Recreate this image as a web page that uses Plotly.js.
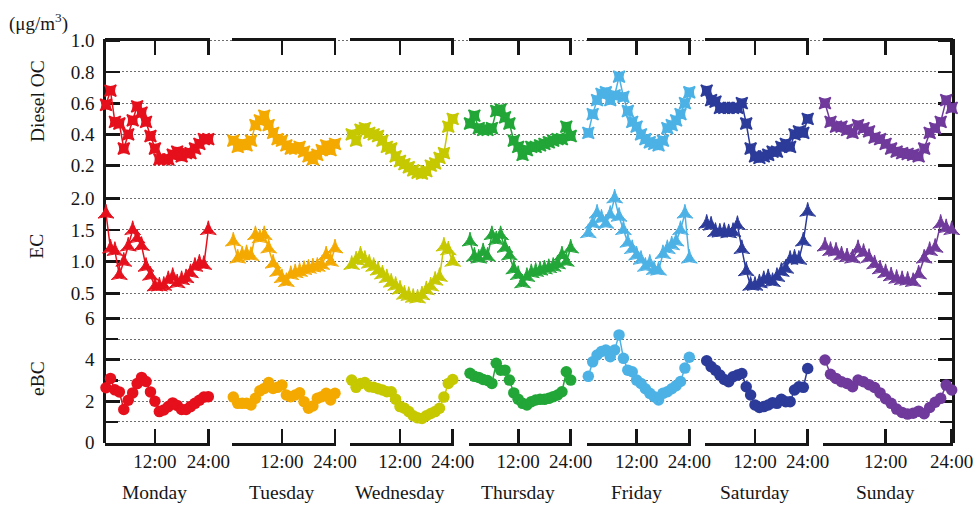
<!DOCTYPE html>
<html><head><meta charset="utf-8">
<script src="https://cdn.plot.ly/plotly-3.0.1.min.js"></script>
<style>html,body{margin:0;padding:0;background:#fff}</style>
</head><body><div id="chart" style="width:978px;height:507px"></div>
<script>
// ---------------- data ----------------
const days = ['Monday','Tuesday','Wednesday','Thursday','Friday','Saturday','Sunday'];
const hours = [1,2,3,4,5,6,7,8,9,10,11,12,13,14,15,16,17,18,19,20,21,22,23,24];
const hourTickVals = [12, 24];
const hourTickText = ['12:00', '24:00'];
const rowTitles = ['Diesel OC', 'EC', 'eBC'];
const unitLabel = '(μg/m<sup>3</sup>)';

const ocMon = [0.59,0.68,0.48,0.47,0.31,0.40,0.49,0.58,0.54,0.48,0.39,0.31,0.24,0.24,0.24,0.27,0.29,0.26,0.28,0.28,0.31,0.34,0.37,0.37];
const ocTue = [0.36,0.32,0.34,0.33,0.36,0.46,0.49,0.52,0.46,0.41,0.37,0.36,0.33,0.31,0.31,0.32,0.29,0.26,0.24,0.27,0.30,0.33,0.30,0.34];
const ocWed = [0.40,0.36,0.43,0.44,0.41,0.40,0.39,0.36,0.32,0.31,0.26,0.23,0.21,0.19,0.17,0.155,0.15,0.165,0.20,0.215,0.25,0.28,0.45,0.50];
const ocThu = [0.47,0.52,0.44,0.43,0.43,0.44,0.55,0.56,0.51,0.47,0.36,0.32,0.27,0.30,0.32,0.32,0.33,0.34,0.35,0.36,0.37,0.37,0.45,0.39];
const ocFri = [0.41,0.53,0.62,0.66,0.67,0.62,0.65,0.77,0.64,0.55,0.48,0.45,0.40,0.37,0.35,0.34,0.33,0.36,0.44,0.46,0.49,0.53,0.60,0.67];
const ocSat = [0.68,0.62,0.61,0.57,0.57,0.57,0.57,0.57,0.60,0.47,0.31,0.26,0.25,0.26,0.27,0.29,0.29,0.32,0.34,0.32,0.40,0.42,0.41,0.50];
const ocSun = [0.60,0.48,0.45,0.45,0.43,0.41,0.46,0.44,0.42,0.38,0.37,0.34,0.31,0.29,0.28,0.275,0.27,0.26,0.31,0.41,0.44,0.48,0.62,0.57];

const ecMon = [1.76,1.21,1.17,0.79,1.00,1.24,1.50,1.37,1.25,0.92,0.78,0.61,0.61,0.62,0.71,0.76,0.66,0.71,0.74,0.82,0.92,0.97,0.95,1.50];
const ecTue = [1.32,1.05,1.10,1.12,1.09,1.42,1.37,1.42,1.21,0.97,0.84,0.74,0.68,0.79,0.82,0.84,0.87,0.89,0.91,0.92,0.95,1.10,1.00,1.21];
const ecWed = [0.95,1.02,1.10,1.03,0.97,0.92,0.86,0.80,0.74,0.67,0.62,0.56,0.48,0.46,0.43,0.42,0.47,0.55,0.61,0.70,0.76,1.24,1.18,1.00];
const ecThu = [1.32,1.08,1.05,1.15,1.08,1.42,1.34,1.42,1.22,1.10,0.88,0.79,0.66,0.76,0.82,0.84,0.86,0.88,0.90,0.92,0.96,1.10,1.00,1.21];
const ecFri = [1.45,1.60,1.76,1.68,1.60,1.74,2.00,1.71,1.50,1.30,1.20,1.10,1.03,0.92,0.97,0.87,0.86,1.12,1.20,1.26,1.32,1.50,1.76,1.05];
const ecSat = [1.60,1.57,1.47,1.46,1.47,1.45,1.47,1.58,1.20,0.85,0.62,0.62,0.66,0.71,0.74,0.68,0.76,0.84,0.89,1.03,1.05,1.03,1.32,1.79];
const ecSun = [1.24,1.17,1.16,1.10,1.07,1.05,1.20,1.14,1.06,0.96,0.88,0.82,0.77,0.73,0.71,0.70,0.68,0.80,1.05,1.17,1.22,1.60,1.53,1.50];

const bcMon = [2.65,3.10,2.55,2.45,1.60,2.05,2.40,2.85,3.15,2.95,2.45,2.00,1.50,1.58,1.74,1.92,1.80,1.60,1.60,1.74,1.90,2.05,2.20,2.22];
const bcTue = [2.20,1.90,1.90,1.90,1.82,2.14,2.50,2.62,2.90,2.62,2.67,2.78,2.30,2.22,2.30,2.41,1.98,1.66,1.77,2.14,2.22,2.38,2.06,2.38];
const bcWed = [3.02,2.67,2.85,2.90,2.70,2.67,2.60,2.54,2.46,2.46,2.10,1.74,1.66,1.50,1.30,1.20,1.17,1.30,1.41,1.50,1.66,2.20,2.86,3.05];
const bcThu = [3.35,3.20,3.15,3.05,3.00,2.86,3.83,3.50,3.50,3.02,2.40,2.10,1.90,1.82,1.98,2.06,2.09,2.09,2.14,2.22,2.30,2.46,3.42,3.02];
const bcFri = [3.20,3.90,4.23,4.40,4.47,4.15,4.47,5.20,4.07,3.50,3.42,3.02,2.86,2.60,2.38,2.22,2.06,2.38,2.46,2.60,2.75,2.95,3.60,4.12];
const bcSat = [3.95,3.67,3.50,3.26,3.05,2.94,3.18,3.26,3.34,2.70,2.30,1.82,1.70,1.74,1.82,1.93,1.90,2.09,1.98,1.98,2.54,2.70,2.67,3.58];
const bcSun = [3.99,3.30,3.10,2.94,2.86,2.70,3.02,2.94,2.80,2.66,2.40,2.12,1.90,1.62,1.46,1.38,1.42,1.52,1.40,1.70,1.95,2.14,2.78,2.54];

const ocTickVals = [0.2,0.4,0.6,0.8,1.0];
const ecTickVals = [0.5,1.0,1.5,2.0];
const bcTickVals = [0,2,4,6];
const bcMinorTickVals = [1,3,5];

const dayColors = ['#e5101c','#f4a900','#c6c800','#21a637','#4cb2e6','#2c3b99','#6f3a9b'];

// ---------------- layout geometry (pixels) ----------------
const W = 978, H = 507;
const fx = p => p / W;
const fy = p => 1 - p / H;
const dayStartPx = [106, 233.3, 351.7, 470, 588.3, 706.7, 825];
const dayEndPx   = [208.3, 335, 452.7, 570.7, 689.3, 807.7, 951.7];
const plotLeftPx = 106, plotRightPx = 951.7;
const rowRef = [
  {v1: 1.0, p1: 40.7, v2: 0.2, p2: 165.7, frameTop: 39.0, hidTop: 40.7, bot: 185},
  {v1: 2.0, p1: 198.3, v2: 0.5, p2: 293.3, frameTop: 185, hidTop: 185, bot: 307},
  {v1: 6.0, p1: 318.3, v2: 0.0, p2: 442.7, frameTop: 307, hidTop: 307, bot: 442.7}
];
const valAt = (r, px) => r.v1 - (px - r.p1) * (r.v1 - r.v2) / (r.p2 - r.p1);

const series = [
  [ocMon, ocTue, ocWed, ocThu, ocFri, ocSat, ocSun],
  [ecMon, ecTue, ecWed, ecThu, ecFri, ecSat, ecSun],
  [bcMon, bcTue, bcWed, bcThu, bcFri, bcSat, bcSun]
];
const symbols = ['star-square', 'star-triangle-up', 'circle'];
const msizes = [10.5, 11.5, 11.5];
const mlines = [1.5, 1, 0];

const FONT = 'Liberation Serif, Times New Roman, serif';
const INK = '#161616';
const AXW = 2.8;
const GRID = '#6e6e6e';
const tickFont = {family: FONT, size: 19, color: INK};

const layout = {
  width: W, height: H, autosize: false,
  margin: {l: 0, r: 0, t: 0, b: 0},
  paper_bgcolor: '#ffffff', plot_bgcolor: 'rgba(0,0,0,0)',
  showlegend: false,
  font: {family: FONT, color: INK},
  annotations: [],
  xaxis: {domain: [fx(plotLeftPx), fx(plotRightPx)], range: [0, 1], showline: false, showgrid: false,
          zeroline: false, showticklabels: false, ticks: '', anchor: 'y', fixedrange: true}
};

const tickSets = [
  {vals: ocTickVals, text: ocTickVals.map(v => v.toFixed(1))},
  {vals: ecTickVals, text: ecTickVals.map(v => v.toFixed(1))},
  {vals: bcTickVals, text: bcTickVals.map(v => String(v))}
];
const traces = [];
rowRef.forEach((r, i) => {
  const fName = i === 0 ? 'yaxis' : 'yaxis' + (i + 1);
  layout[fName] = {
    domain: [fy(r.bot), fy(r.frameTop)],
    range: [valAt(r, r.bot), valAt(r, r.frameTop)],
    anchor: 'x',
    showline: true, linecolor: INK, linewidth: AXW, mirror: 'ticks',
    ticks: 'inside', ticklen: 14, tickwidth: AXW, tickcolor: INK,
    tickmode: 'array', tickvals: tickSets[i].vals, ticktext: tickSets[i].text,
    tickfont: tickFont, ticklabelstandoff: 5,
    showgrid: true, gridcolor: GRID, gridwidth: 1, griddash: '1.5px,2.5px',
    zeroline: false, fixedrange: true
  };
  if (i === 2) {
    layout[fName].minor = {
      tickmode: 'array', tickvals: bcMinorTickVals,
      ticks: 'inside', ticklen: 12, tickwidth: AXW, tickcolor: INK,
      showgrid: true, gridcolor: GRID, gridwidth: 1, griddash: '1.5px,2.5px'
    };
  }
  layout['yaxis' + (i + 4)] = {
    domain: [fy(r.bot), fy(r.hidTop)],
    range: [valAt(r, r.bot), valAt(r, r.hidTop)],
    anchor: 'x', visible: false, showgrid: false, zeroline: false, fixedrange: true
  };
  traces.push({type: 'scatter', mode: 'markers', x: [], y: [], xaxis: 'x', yaxis: i === 0 ? 'y' : 'y' + (i + 1),
               hoverinfo: 'skip', showlegend: false});
  layout.annotations.push({
    text: rowTitles[i], textangle: -90, showarrow: false,
    xref: 'paper', yref: 'paper', x: fx(37), y: fy([101, 246.7, 379][i]),
    xanchor: 'center', yanchor: 'middle',
    font: {family: FONT, size: 19.5, color: INK}
  });
});
layout.annotations.push({
  text: unitLabel, showarrow: false, xref: 'paper', yref: 'paper',
  x: fx(7), y: fy(22), xanchor: 'left', yanchor: 'middle',
  font: {family: FONT, size: 19, color: INK}
});

const pad = 0.3;
days.forEach((d, k) => {
  const pph = (dayEndPx[k] - dayStartPx[k]) / 23;
  const dom = [fx(dayStartPx[k] - pad * pph), fx(dayEndPx[k] + pad * pph)];
  const common = {
    domain: dom, range: [1 - pad, 24 + pad],
    showline: true, linecolor: INK, linewidth: AXW,
    ticks: 'inside', ticklen: 14, tickwidth: AXW, tickcolor: INK,
    tickmode: 'array', tickvals: hourTickVals, ticktext: hourTickText,
    showgrid: false, zeroline: false, fixedrange: true
  };
  layout['xaxis' + (k + 2)] = Object.assign({}, common, {
    anchor: 'y6', side: 'bottom', tickfont: tickFont, ticklabelstandoff: 0
  });
  layout['xaxis' + (k + 9)] = Object.assign({}, common, {
    anchor: 'y4', side: 'top', showticklabels: false
  });
  traces.push({type: 'scatter', mode: 'markers', x: [], y: [], xaxis: 'x' + (k + 9), yaxis: 'y4',
               hoverinfo: 'skip', showlegend: false});
  layout.annotations.push({
    text: d, showarrow: false, xref: 'x' + (k + 2), yref: 'paper',
    x: 12, y: fy(492.3), xanchor: 'center', yanchor: 'middle',
    font: {family: FONT, size: 19.5, color: INK}
  });
});

series.forEach((rowSeries, r) => {
  rowSeries.forEach((vals, k) => {
    traces.push({
      type: 'scatter', mode: 'lines+markers',
      x: hours, y: vals,
      xaxis: 'x' + (k + 2), yaxis: 'y' + (r + 4),
      line: {color: dayColors[k], width: 1.5},
      marker: {symbol: symbols[r], size: msizes[r], color: dayColors[k],
               line: {width: mlines[r], color: dayColors[k]}},
      cliponaxis: false, hoverinfo: 'skip', showlegend: false
    });
  });
});

Plotly.newPlot('chart', traces, layout, {staticPlot: true, displayModeBar: false});
</script>
</body></html>
